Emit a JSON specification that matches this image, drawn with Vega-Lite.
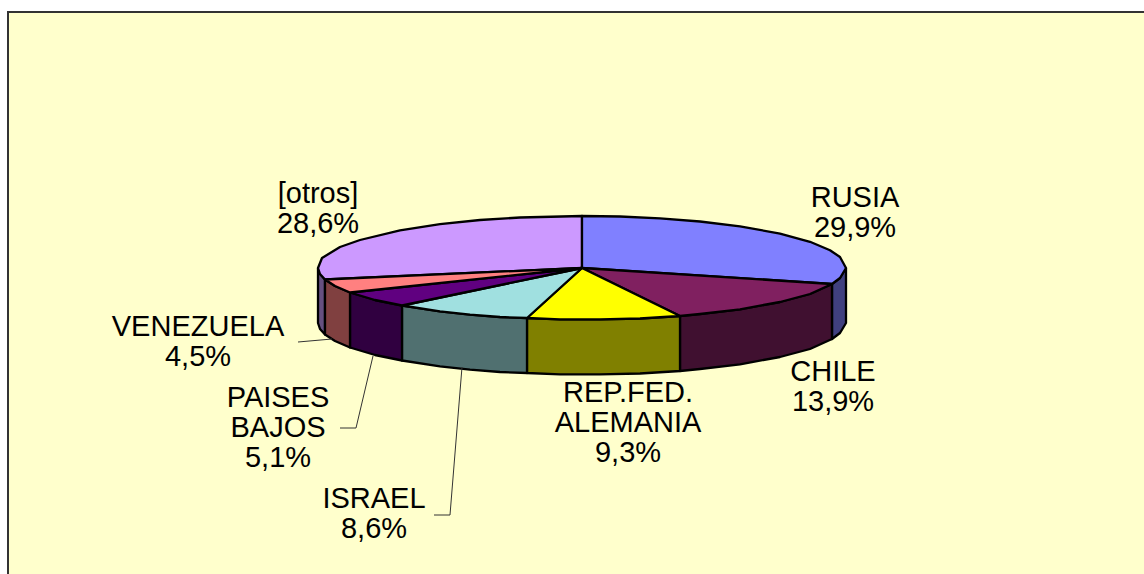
{
"$schema":"https://vega.github.io/schema/vega-lite/v6.json",
"width":1144,"height":574,
"autosize":{"type":"fit","contains":"padding"},
"padding":0,
"background":"#FFFFFF",
"view":{"stroke":null},
"config":{"axis":{"domain":false}},
"datasets":{
"frame":[{"x":8,"x2":1170,"y":12,"y2":600}],
"faces":[
{"f":"otros_side","o":1,"x":318,"y":268},{"f":"otros_side","o":2,"x":320,"y":274},{"f":"otros_side","o":3,"x":325,"y":279.5},{"f":"otros_side","o":4,"x":325,"y":334.5},{"f":"otros_side","o":5,"x":320,"y":329},{"f":"otros_side","o":6,"x":318,"y":323},{"f":"otros_side","o":7,"x":318,"y":268},
{"f":"rusia_side","o":1,"x":846,"y":268},{"f":"rusia_side","o":2,"x":846,"y":323},{"f":"rusia_side","o":3,"x":840,"y":333},{"f":"rusia_side","o":4,"x":832,"y":339},{"f":"rusia_side","o":5,"x":832,"y":284},{"f":"rusia_side","o":6,"x":840,"y":278},{"f":"rusia_side","o":7,"x":846,"y":268},
{"f":"chile_side","o":1,"x":832,"y":284},{"f":"chile_side","o":2,"x":810,"y":294},{"f":"chile_side","o":3,"x":780,"y":302},{"f":"chile_side","o":4,"x":740,"y":309.3},{"f":"chile_side","o":5,"x":700,"y":314},{"f":"chile_side","o":6,"x":680,"y":316},{"f":"chile_side","o":7,"x":680,"y":371},{"f":"chile_side","o":8,"x":700,"y":369},{"f":"chile_side","o":9,"x":740,"y":364.3},{"f":"chile_side","o":10,"x":780,"y":357},{"f":"chile_side","o":11,"x":810,"y":349},{"f":"chile_side","o":12,"x":832,"y":339},{"f":"chile_side","o":13,"x":832,"y":284},
{"f":"alemania_side","o":1,"x":680,"y":316},{"f":"alemania_side","o":2,"x":640,"y":318.5},{"f":"alemania_side","o":3,"x":600,"y":319.3},{"f":"alemania_side","o":4,"x":560,"y":319.3},{"f":"alemania_side","o":5,"x":527,"y":318},{"f":"alemania_side","o":6,"x":527,"y":373},{"f":"alemania_side","o":7,"x":560,"y":374.3},{"f":"alemania_side","o":8,"x":600,"y":374.3},{"f":"alemania_side","o":9,"x":640,"y":373.5},{"f":"alemania_side","o":10,"x":680,"y":371},{"f":"alemania_side","o":11,"x":680,"y":316},
{"f":"israel_side","o":1,"x":527,"y":318},{"f":"israel_side","o":2,"x":500,"y":317},{"f":"israel_side","o":3,"x":470,"y":314.7},{"f":"israel_side","o":4,"x":440,"y":311.4},{"f":"israel_side","o":5,"x":402,"y":305.5},{"f":"israel_side","o":6,"x":402,"y":360.5},{"f":"israel_side","o":7,"x":440,"y":366.4},{"f":"israel_side","o":8,"x":470,"y":369.7},{"f":"israel_side","o":9,"x":500,"y":372},{"f":"israel_side","o":10,"x":527,"y":373},{"f":"israel_side","o":11,"x":527,"y":318},
{"f":"paises_side","o":1,"x":402,"y":305.5},{"f":"paises_side","o":2,"x":375,"y":300},{"f":"paises_side","o":3,"x":350,"y":292.5},{"f":"paises_side","o":4,"x":350,"y":347.5},{"f":"paises_side","o":5,"x":375,"y":355},{"f":"paises_side","o":6,"x":402,"y":360.5},{"f":"paises_side","o":7,"x":402,"y":305.5},
{"f":"venezuela_side","o":1,"x":350,"y":292.5},{"f":"venezuela_side","o":2,"x":335,"y":286},{"f":"venezuela_side","o":3,"x":325,"y":279.5},{"f":"venezuela_side","o":4,"x":325,"y":334.5},{"f":"venezuela_side","o":5,"x":335,"y":341},{"f":"venezuela_side","o":6,"x":350,"y":347.5},{"f":"venezuela_side","o":7,"x":350,"y":292.5},
{"f":"otros_top","o":1,"x":582,"y":268},{"f":"otros_top","o":2,"x":325,"y":279.5},{"f":"otros_top","o":3,"x":320,"y":274},{"f":"otros_top","o":4,"x":318,"y":268},{"f":"otros_top","o":5,"x":322,"y":258},{"f":"otros_top","o":6,"x":340,"y":247},{"f":"otros_top","o":7,"x":360,"y":240},{"f":"otros_top","o":8,"x":400,"y":230.3},{"f":"otros_top","o":9,"x":440,"y":224.2},{"f":"otros_top","o":10,"x":480,"y":220},{"f":"otros_top","o":11,"x":520,"y":217.5},{"f":"otros_top","o":12,"x":582,"y":216},{"f":"otros_top","o":13,"x":582,"y":268},
{"f":"rusia_top","o":1,"x":582,"y":268},{"f":"rusia_top","o":2,"x":582,"y":216},{"f":"rusia_top","o":3,"x":620,"y":216.5},{"f":"rusia_top","o":4,"x":660,"y":218.3},{"f":"rusia_top","o":5,"x":700,"y":221.5},{"f":"rusia_top","o":6,"x":740,"y":226.3},{"f":"rusia_top","o":7,"x":780,"y":233.6},{"f":"rusia_top","o":8,"x":810,"y":241.8},{"f":"rusia_top","o":9,"x":830,"y":250.2},{"f":"rusia_top","o":10,"x":840,"y":257},{"f":"rusia_top","o":11,"x":846,"y":268},{"f":"rusia_top","o":12,"x":840,"y":278},{"f":"rusia_top","o":13,"x":832,"y":284},{"f":"rusia_top","o":14,"x":582,"y":268},
{"f":"chile_top","o":1,"x":582,"y":268},{"f":"chile_top","o":2,"x":832,"y":284},{"f":"chile_top","o":3,"x":810,"y":294},{"f":"chile_top","o":4,"x":780,"y":302},{"f":"chile_top","o":5,"x":740,"y":309.3},{"f":"chile_top","o":6,"x":700,"y":314},{"f":"chile_top","o":7,"x":680,"y":316},{"f":"chile_top","o":8,"x":582,"y":268},
{"f":"alemania_top","o":1,"x":582,"y":268},{"f":"alemania_top","o":2,"x":680,"y":316},{"f":"alemania_top","o":3,"x":640,"y":318.5},{"f":"alemania_top","o":4,"x":600,"y":319.3},{"f":"alemania_top","o":5,"x":560,"y":319.3},{"f":"alemania_top","o":6,"x":527,"y":318},{"f":"alemania_top","o":7,"x":582,"y":268},
{"f":"israel_top","o":1,"x":582,"y":268},{"f":"israel_top","o":2,"x":527,"y":318},{"f":"israel_top","o":3,"x":500,"y":317},{"f":"israel_top","o":4,"x":470,"y":314.7},{"f":"israel_top","o":5,"x":440,"y":311.4},{"f":"israel_top","o":6,"x":402,"y":305.5},{"f":"israel_top","o":7,"x":582,"y":268},
{"f":"paises_top","o":1,"x":582,"y":268},{"f":"paises_top","o":2,"x":402,"y":305.5},{"f":"paises_top","o":3,"x":375,"y":300},{"f":"paises_top","o":4,"x":350,"y":292.5},{"f":"paises_top","o":5,"x":582,"y":268},
{"f":"venezuela_top","o":1,"x":582,"y":268},{"f":"venezuela_top","o":2,"x":350,"y":292.5},{"f":"venezuela_top","o":3,"x":335,"y":286},{"f":"venezuela_top","o":4,"x":325,"y":279.5},{"f":"venezuela_top","o":5,"x":582,"y":268}
],
"leaders":[
{"l":"VENEZUELA","o":1,"x":298,"y":342},{"l":"VENEZUELA","o":2,"x":332,"y":339},
{"l":"PAISES","o":1,"x":340,"y":428},{"l":"PAISES","o":2,"x":356,"y":428},{"l":"PAISES","o":3,"x":373,"y":356},
{"l":"ISRAEL","o":1,"x":434,"y":515},{"l":"ISRAEL","o":2,"x":450,"y":515},{"l":"ISRAEL","o":3,"x":462,"y":367}
],
"labels":[
{"t":"RUSIA\n29,9%","x":855,"y":198},
{"t":"CHILE\n13,9%","x":833,"y":372},
{"t":"REP.FED.\nALEMANIA\n9,3%","x":628,"y":393},
{"t":"ISRAEL\n8,6%","x":374,"y":499},
{"t":"PAISES\nBAJOS\n5,1%","x":278,"y":398},
{"t":"VENEZUELA\n4,5%","x":198,"y":327},
{"t":"[otros]\n28,6%","x":318,"y":194}
]
},
"layer":[
{"data":{"name":"frame"},"mark":{"type":"rect","fill":"#FFFFCC","stroke":"#333333","strokeWidth":2,"clip":true},
"encoding":{"x":{"field":"x","type":"quantitative","scale":{"domain":[0,1144],"nice":false,"zero":false},"axis":null},"x2":{"field":"x2"},"y":{"field":"y","type":"quantitative","scale":{"domain":[574,0],"nice":false,"zero":false},"axis":null},"y2":{"field":"y2"}}},
{"data":{"name":"faces"},"mark":{"type":"line","stroke":"#000000","strokeWidth":2.3,"strokeJoin":"round","interpolate":"linear","clip":true},
"encoding":{"x":{"field":"x","type":"quantitative"},"y":{"field":"y","type":"quantitative"},"order":{"field":"o","type":"quantitative"},
"fill":{"field":"f","type":"nominal","legend":null,"sort":null,"scale":{"domain":["otros_side","rusia_side","chile_side","alemania_side","israel_side","paises_side","venezuela_side","otros_top","rusia_top","chile_top","alemania_top","israel_top","paises_top","venezuela_top"],"range":["#665080","#40407F","#401030","#808000","#507070","#300040","#804040","#CC99FF","#8080FF","#802060","#FFFF00","#A0E0E0","#600080","#FF8080"]}}}},
{"data":{"name":"leaders"},"mark":{"type":"line","stroke":"#333333","strokeWidth":1},
"encoding":{"x":{"field":"x","type":"quantitative"},"y":{"field":"y","type":"quantitative"},"order":{"field":"o","type":"quantitative"},"detail":{"field":"l"}}},
{"data":{"name":"labels"},"mark":{"type":"text","font":"Liberation Sans","fontSize":29,"color":"#000000","lineBreak":"\n","lineHeight":30,"align":"center","baseline":"middle"},
"encoding":{"x":{"field":"x","type":"quantitative"},"y":{"field":"y","type":"quantitative"},"text":{"field":"t"}}}
]
}
